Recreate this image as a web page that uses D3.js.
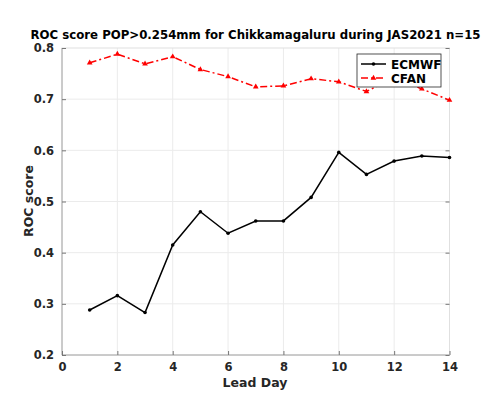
<!DOCTYPE html>
<html><head><meta charset="utf-8">
<script src="https://cdn.jsdelivr.net/npm/d3@7"></script>
<style>body{margin:0;background:#fff;} text{font-family:"DejaVu Sans",sans-serif;font-weight:bold;}</style>
</head><body>
<svg id="c" width="500" height="419"></svg>
<script>
const leadDays = [1,2,3,4,5,6,7,8,9,10,11,12,13,14];
const ecmwf = [0.288,0.316,0.283,0.415,0.480,0.438,0.462,0.462,0.508,0.596,0.553,0.579,0.589,0.586];
const cfan  = [0.771,0.788,0.769,0.783,0.758,0.744,0.724,0.726,0.740,0.734,0.715,0.742,0.720,0.698];
const xTicks = [0,2,4,6,8,10,12,14];
const yTicks = [0.2,0.3,0.4,0.5,0.6,0.7,0.8];
const titleText = "ROC score POP>0.254mm for Chikkamagaluru during JAS2021 n=15";

const svg = d3.select("#c");
const L=62, R=449.5, T=48, B=355;
const x = d3.scaleLinear().domain([0,14]).range([L,R]);
const y = d3.scaleLinear().domain([0.2,0.8]).range([B,T]);

// grid
svg.append("g").selectAll("line").data(xTicks.slice(1,-1)).join("line")
  .attr("x1",d=>x(d)).attr("x2",d=>x(d)).attr("y1",T).attr("y2",B)
  .attr("stroke","#ebebeb").attr("stroke-width",1);
svg.append("g").selectAll("line").data(yTicks.slice(1,-1)).join("line")
  .attr("y1",d=>y(d)).attr("y2",d=>y(d)).attr("x1",L).attr("x2",R)
  .attr("stroke","#ebebeb").attr("stroke-width",1);

// box
svg.append("rect").attr("x",L).attr("y",T).attr("width",R-L).attr("height",B-T)
  .attr("fill","none").attr("stroke","#e0e0e0").attr("stroke-width",1);
svg.append("line").attr("x1",L).attr("x2",L).attr("y1",T).attr("y2",B).attr("stroke","#a6a6a6");
svg.append("line").attr("x1",L).attr("x2",R).attr("y1",B).attr("y2",B).attr("stroke","#a6a6a6");

// axes with inward ticks
const xAxis = d3.axisBottom(x).tickValues(xTicks).tickFormat(d3.format("d")).tickSizeInner(-4).tickSizeOuter(0).tickPadding(8);
const gx = svg.append("g").attr("transform",`translate(0,${B})`).call(xAxis);
gx.select(".domain").remove();
gx.selectAll(".tick line").attr("stroke","#777");
gx.selectAll(".tick text").attr("font-size",11.5).attr("fill","#262626").attr("font-family","DejaVu Sans").attr("font-weight","bold");

const yAxis = d3.axisLeft(y).tickValues(yTicks).tickFormat(d3.format(".1f")).tickSizeInner(-4).tickSizeOuter(0).tickPadding(8);
const gy = svg.append("g").attr("transform",`translate(${L},0)`).call(yAxis);
gy.select(".domain").remove();
gy.selectAll(".tick line").attr("stroke","#777");
gy.selectAll(".tick text").attr("font-size",11.5).attr("fill","#262626").attr("font-family","DejaVu Sans").attr("font-weight","bold");

const yAxisR = d3.axisRight(y).tickValues(yTicks).tickFormat("").tickSizeInner(-4).tickSizeOuter(0);
const gyr = svg.append("g").attr("transform",`translate(${R},0)`).call(yAxisR);
gyr.select(".domain").remove();
gyr.selectAll(".tick line").attr("stroke","#777");

// lines
const line = d3.line().x((d,i)=>x(leadDays[i])).y(d=>y(d));
svg.append("path").datum(ecmwf).attr("d",line).attr("fill","none").attr("stroke","#000").attr("stroke-width",1.5);
svg.append("g").selectAll("circle").data(ecmwf).join("circle")
  .attr("cx",(d,i)=>x(leadDays[i])).attr("cy",d=>y(d)).attr("r",1.8).attr("fill","#000");

svg.append("path").datum(cfan).attr("d",line).attr("fill","none").attr("stroke","#ff0000").attr("stroke-width",1.5)
  .attr("stroke-dasharray","7,3,2,3");
const tri = d3.symbol().type(d3.symbolTriangle).size(14);
svg.append("g").selectAll("path").data(cfan).join("path")
  .attr("transform",(d,i)=>`translate(${x(leadDays[i])},${y(d)})`).attr("d",tri).attr("fill","#ff0000");

// legend
const lg = svg.append("g");
lg.append("rect").attr("x",357).attr("y",54).attr("width",84).attr("height",33)
  .attr("fill","#fff").attr("stroke","#262626").attr("stroke-width",0.8);
lg.append("line").attr("x1",361).attr("x2",386).attr("y1",64).attr("y2",64).attr("stroke","#000").attr("stroke-width",1.5);
lg.append("circle").attr("cx",373.5).attr("cy",64).attr("r",1.8).attr("fill","#000");
lg.append("line").attr("x1",361).attr("x2",386).attr("y1",78).attr("y2",78).attr("stroke","#ff0000").attr("stroke-width",1.5).attr("stroke-dasharray","7,3,2,3");
lg.append("path").attr("transform","translate(373.5,78)").attr("d",tri).attr("fill","#ff0000");
lg.append("text").attr("x",391).attr("y",68.5).attr("font-size",12).attr("fill","#000").text("ECMWF");
lg.append("text").attr("x",391).attr("y",82.5).attr("font-size",12).attr("fill","#000").text("CFAN");

// title & labels
svg.append("text").attr("x",255.5).attr("y",38.5).attr("text-anchor","middle").attr("font-size",11.75).attr("fill","#000").text(titleText);
svg.append("text").attr("x",255).attr("y",387).attr("text-anchor","middle").attr("font-size",12.5).attr("fill","#262626").text("Lead Day");
svg.append("text").attr("transform","translate(32.5,201) rotate(-90)").attr("text-anchor","middle").attr("font-size",12.5).attr("fill","#262626").text("ROC score");
</script>
</body></html>
